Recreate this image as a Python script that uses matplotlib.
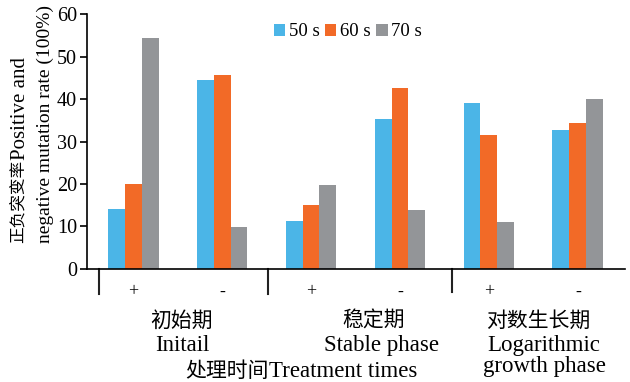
import matplotlib
matplotlib.use("Agg")
import matplotlib.pyplot as plt
import numpy as np

plt.rcParams['font.family'] = ['Liberation Serif', 'Noto Sans CJK SC', 'DejaVu Sans']

series = ['50 s', '60 s', '70 s']
signs = ['+', '-', '+', '-', '+', '-']
v50 = [14.2, 44.5, 11.2, 35.2, 39.1, 32.7]
v60 = [20.1, 45.7, 15.1, 42.6, 31.5, 34.4]
v70 = [54.4, 9.9, 19.8, 13.8, 11.0, 40.1]
groups_cn = ['初始期', '稳定期', '对数生长期']
groups_en = ['Initail', 'Stable phase', 'Logarithmic\ngrowth phase']
xlabel_cn, xlabel_en = '处理时间', 'Treatment times'
ylabel1_cn, ylabel1_en = '正负突变率', 'Positive and'
ylabel2_en = 'negative mutation rate (100%)'
colors = ['#4BB5E7', '#F26A27', '#939598']

W, H = 630, 382
fig = plt.figure(figsize=(W / 100, H / 100), dpi=100)
ax = fig.add_axes([0.138, 0.296, 0.854, 0.667])

x = np.arange(len(signs))
w = 0.19
for i, (vals, c, lab) in enumerate(zip([v50, v60, v70], colors, series)):
    ax.bar(x + (i - 1) * w, vals, width=w, color=c, label=lab)

ax.set_xlim(-0.52, 5.53)
ax.set_ylim(0, 60)
ax.set_yticks(range(0, 61, 10))
ax.tick_params(axis='y', labelsize=14.5, length=5, width=1.2, pad=2)
ax.set_xticks([])
for s in ['top', 'right']:
    ax.spines[s].set_visible(False)
ax.spines['left'].set_linewidth(1.2)
ax.spines['bottom'].set_linewidth(1.2)

# separators
for sx, ln in zip([-0.38, 1.52, 3.58], [0.1, 0.1, 0.09]):
    ax.plot([sx, sx], [0, -ln], transform=ax.get_xaxis_transform(), color='#222222', lw=1.5, clip_on=False)

for xi, s in zip(x, signs):
    ax.text(xi, -0.09, s, transform=ax.get_xaxis_transform(), ha='center', va='center', fontsize=13)

def px(xp, yp):
    return xp / W, 1 - yp / H

cn_pos = [(182, 322), (374, 322), (538, 322)]
en_pos = [(182, 335), (381, 335), (544, 335)]
for (cx, cy), (ex, ey), cn, en in zip(cn_pos, en_pos, groups_cn, groups_en):
    fig.text(*px(cx, cy), cn, ha='center', va='center', fontsize=15)
    fig.text(*px(ex, ey), en, ha='center', va='top', fontsize=16.5, linespacing=1.0)

renderer = fig.canvas.get_renderer()

# x label: mixed sizes, centred at 301 px
t1 = fig.text(0, 0, xlabel_cn, fontsize=15, ha='left', va='baseline')
t2 = fig.text(0, 0, xlabel_en, fontsize=16.5, ha='left', va='baseline')
w1 = t1.get_window_extent(renderer).width
w2 = t2.get_window_extent(renderer).width
x0 = 301 - (w1 + w2) / 2
base = 377
t1.set_position(px(x0, base))
t2.set_position(px(x0 + w1, base))

# y label (rotated)
cn_fs = 12
ybot = 243
fig.text(*px(24, ybot), ylabel1_cn, fontsize=cn_fs, rotation=90, rotation_mode='anchor',
         ha='left', va='baseline')
cn_len = len(ylabel1_cn) * cn_fs * 100 / 72

def fitted(xb, y, s, target):
    t = fig.text(*px(xb, y), s, fontsize=14, rotation=90, rotation_mode='anchor',
                 ha='left', va='baseline')
    h = t.get_window_extent(renderer).height
    t.set_fontsize(14 * target / h)

fitted(25, ybot - cn_len, ylabel1_en, 103)
fitted(50, ybot, ylabel2_en, 238)

ax.legend(loc='center', bbox_to_anchor=px(348, 32), bbox_transform=fig.transFigure,
          ncol=3, frameon=False, fontsize=13.5, handlelength=0.6, handleheight=0.6,
          handletextpad=0.2, columnspacing=0.3, borderpad=0)

fig.savefig('out.png', dpi=100)
